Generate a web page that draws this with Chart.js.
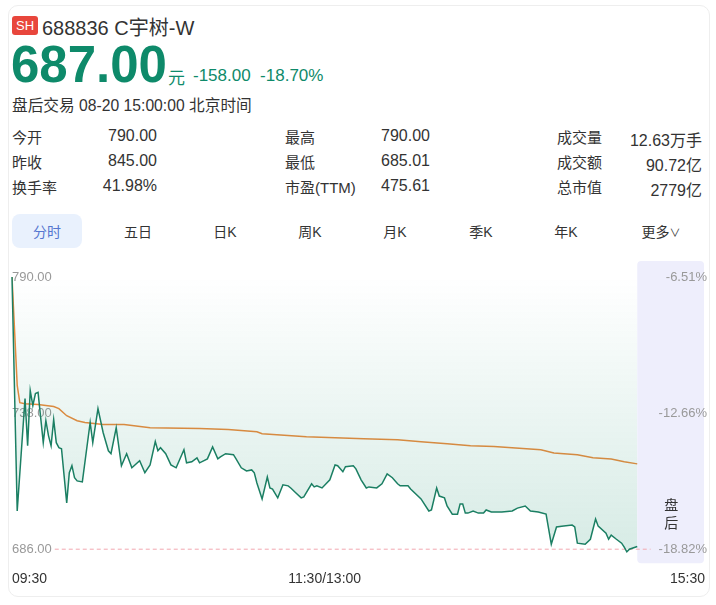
<!DOCTYPE html>
<html>
<head>
<meta charset="utf-8">
<script src="https://cdn.jsdelivr.net/npm/chart.js@4.4.1/dist/chart.umd.min.js"></script>
<style>
  html, body { margin: 0; overflow: hidden; }
  body { background: #fff; font-family: "Liberation Sans", "Noto Sans CJK SC", sans-serif; color: #333; }
  #card { position: absolute; left: 8px; top: 5px; width: 700px; height: 590px; border: 1px solid #eeeeee; border-radius: 10px; }
  .abs { position: absolute; white-space: nowrap; }
  .green { color: #0e8a6a; }
  #badge { left: 12px; top: 16px; width: 26px; height: 19px; background: #e8463c; color: #fff; font-size: 13px; line-height: 19px; text-align: center; border-radius: 3px; }
  .tab { top: 221px; font-size: 14px; color: #333; transform: translateX(-50%); }
  #pill { left: 12px; top: 214px; width: 70px; height: 34px; background: #e9f1fd; border-radius: 8px; }
  .lab { font-size: 15px; color: #333; }
  .val { font-size: 16px; color: #333; }
</style>
</head>
<body>
<div id="card"></div>
<div class="abs" id="badge">SH</div>
<div class="abs" style="left:42px; top:12px; font-size:20px;">688836 C宇树-W</div>
<div class="abs green" style="left:11px; top:35px; font-size:51px; font-weight:bold;">687.00</div>
<div class="abs green" style="left:168px; top:64px; font-size:17px;">元</div>
<div class="abs green" style="left:193px; top:66px; font-size:17px;">-158.00 &nbsp;-18.70%</div>
<div class="abs" style="left:12px; top:93px; font-size:15.7px;">盘后交易 08-20 15:00:00 北京时间</div>

<div class="abs lab" style="left:12px; top:126px;">今开</div>
<div class="abs lab" style="left:12px; top:151px;">昨收</div>
<div class="abs lab" style="left:12px; top:176px;">换手率</div>
<div class="abs val green" style="right:559px; top:127px;">790.00</div>
<div class="abs val" style="right:559px; top:152px;">845.00</div>
<div class="abs val" style="right:559px; top:177px;">41.98%</div>

<div class="abs lab" style="left:285px; top:126px;">最高</div>
<div class="abs lab" style="left:285px; top:151px;">最低</div>
<div class="abs lab" style="left:285px; top:176px;">市盈(TTM)</div>
<div class="abs val green" style="left:381px; top:127px;">790.00</div>
<div class="abs val green" style="left:381px; top:152px;">685.01</div>
<div class="abs val" style="left:381px; top:177px;">475.61</div>

<div class="abs lab" style="left:557px; top:126px;">成交量</div>
<div class="abs lab" style="left:557px; top:151px;">成交额</div>
<div class="abs lab" style="left:557px; top:176px;">总市值</div>
<div class="abs val" style="right:14px; top:127px;">12.63万手</div>
<div class="abs val" style="right:14px; top:152px;">90.72亿</div>
<div class="abs val" style="right:14px; top:177px;">2779亿</div>

<div class="abs" id="pill"></div>
<div class="abs tab" style="left:47px; color:#5677d0;">分时</div>
<div class="abs tab" style="left:138px;">五日</div>
<div class="abs tab" style="left:225px;">日K</div>
<div class="abs tab" style="left:310px;">周K</div>
<div class="abs tab" style="left:395px;">月K</div>
<div class="abs tab" style="left:481px;">季K</div>
<div class="abs tab" style="left:566px;">年K</div>
<div class="abs tab" style="left:661px;">更多<span style="font-size:11px;">∨</span></div>

<div class="abs" style="left:0; top:255px; width:716px; height:345px;">
  <canvas id="fenshi" width="716" height="345"></canvas>
</div>

<script>
// 分时 data, minutes from 09:30 (0..240), after-hours band after 240
var priceMinutes = [
  0, 2, 5, 6, 7, 8, 9, 10, 12, 13,
  14, 15, 16, 17, 18, 19, 21, 22, 23, 24,
  25, 27, 30, 31, 33, 35, 37, 38, 40, 42,
  44, 46, 49, 51, 53, 55, 56, 57, 59, 61,
  63, 66, 67, 69, 71, 72, 75, 77, 79, 80,
  82, 85, 86, 88, 90, 92, 93, 94, 96, 98,
  99, 100, 102, 104, 106, 107, 109, 111, 112, 115,
  116, 117, 119, 122, 124, 125, 127, 128, 131, 132,
  134, 136, 137, 140, 142, 144, 146, 148, 149, 152,
  153, 157, 160, 161, 163, 164, 166, 167, 169, 171,
  172, 173, 174, 175, 177, 179, 181, 182, 184, 188,
  192, 194, 197, 199, 202, 205, 207, 209, 211, 215,
  216, 217, 220, 222, 224, 225, 228, 229, 230, 232,
  234, 235, 236, 237, 240
];
var prices = [
  790, 700.6, 743.6, 725.5, 746.6, 740.9, 745.5, 745.9, 726.7, 735.1,
  729.4, 725.5, 735.5, 726.7, 724.8, 724.4, 703.7, 715.2, 717.9, 713.3,
  712.1, 711.7, 734.4, 726.7, 739.7, 730.5, 723.6, 722.5, 732.4, 717.9,
  722.5, 717.1, 719.8, 715.2, 718.2, 727.1, 723.6, 724.8, 722.5, 718.2,
  717.1, 724.0, 719.0, 719.4, 720.9, 719.0, 720.5, 725.1, 720.5, 721.3,
  722.5, 722.1, 720.5, 717.1, 715.9, 716.3, 715.2, 711.3, 705.2, 713.6,
  709.4, 709.0, 705.6, 710.6, 710.2, 709.4, 707.5, 705.6, 706.0, 711.0,
  709.8, 710.2, 709.4, 712.5, 718.2, 717.9, 715.6, 717.5, 717.9, 716.7,
  712.5, 709.4, 709.8, 709.4, 711.0, 714.8, 713.3, 711.0, 710.2, 710.2,
  709.0, 705.2, 700.6, 701.0, 709.4, 706.3, 705.6, 702.5, 699.4, 699.4,
  703.3, 703.3, 699.8, 699.8, 700.6, 699.8, 699.8, 701.0, 700.2, 700.2,
  700.6, 701.7, 702.5, 700.6, 700.2, 699.4, 687.9, 694.5, 694.8, 695.2,
  694.5, 688.3, 687.9, 689.8, 697.5, 694.8, 692.1, 689.8, 691.4, 689.8,
  688.3, 686.8, 685.01, 686.0, 687.0
];
var avgMinutes = [
  0, 2, 3, 5, 10, 16, 18, 21, 25, 28,
  35, 43, 53, 72, 83, 94, 96, 113, 135, 148,
  157, 167, 176, 185, 203, 208, 217, 223, 230, 235,
  240
];
var avgPrices = [
  790, 748.6, 742.0, 741.6, 741.3, 740.5, 739.7, 737.0, 735.1, 734.4,
  733.6, 733.6, 732.4, 732.1, 731.7, 730.9, 730.1, 729.0, 728.2, 727.8,
  727.1, 726.3, 725.5, 725.2, 724.0, 722.8, 722.1, 720.9, 720.5, 719.4,
  718.6
];
var prevClose = 845;
var priceTicks = [686, 738, 790];
var priceTickLabels = ['686.00', '738.00', '790.00'];
var pctTickLabels = ['-18.82%', '-12.66%', '-6.51%'];
var timeTickMinutes = [0, 120, 266];
var timeTickLabels = ['09:30', '11:30/13:00', '15:30'];
var closeMinute = 240;

var pct = function (p) { return (p / prevClose - 1) * 100; };

var bandPlugin = {
  id: 'band',
  beforeDraw: function (chart) {
    var c = chart.ctx, a = chart.chartArea;
    var x0 = chart.scales.x.getPixelForValue(closeMinute);
    c.save();
    c.fillStyle = '#eeeefc';
    c.beginPath();
    c.roundRect(x0, a.top - 16, a.right - 1 - x0, a.bottom - a.top + 30, 4);
    c.fill();
    c.fillStyle = '#333';
    c.font = '14px "Noto Sans CJK SC"';
    c.textAlign = 'center';
    c.textBaseline = 'middle';
    var cx = (x0 + a.right) / 2;
    c.fillText('盘', cx, a.bottom - 45);
    c.fillText('后', cx, a.bottom - 27);
    c.restore();
  },
  beforeDatasetsDraw: function (chart) {
    var c = chart.ctx, a = chart.chartArea;
    var y = chart.scales.y.getPixelForValue(priceTicks[0]);
    c.save();
    c.font = '13px "Liberation Sans"';
    var xs = a.left + c.measureText(priceTickLabels[0]).width + 3;
    var xe = a.right - c.measureText(pctTickLabels[0]).width - 6;
    c.strokeStyle = '#f2a7b0';
    c.lineWidth = 1;
    c.setLineDash([4, 3]);
    c.beginPath();
    c.moveTo(xs, y);
    c.lineTo(xe, y);
    c.stroke();
    c.restore();
  }
};

var ctx = document.getElementById('fenshi').getContext('2d');
var myChart = new Chart(ctx, {
    type: 'line',
    data: {
        datasets: [{
            label: '价格',
            data: priceMinutes.map(function (m, i) { return { x: m, y: prices[i] }; }),
            borderColor: '#1b7f63',
            borderWidth: 1.5,
            pointRadius: 0,
            tension: 0,
            clip: 6,
            fill: 'end',
            backgroundColor: function (context) {
                var a = context.chart.chartArea;
                if (!a) return 'rgba(0,0,0,0)';
                var g = context.chart.ctx.createLinearGradient(0, a.top, 0, a.bottom);
                g.addColorStop(0, 'rgba(20,140,105,0)');
                g.addColorStop(1, 'rgba(20,140,105,0.17)');
                return g;
            }
        }, {
            label: '均价',
            data: avgMinutes.map(function (m, i) { return { x: m, y: avgPrices[i] }; }),
            borderColor: '#ec8a3c',
            borderWidth: 1.5,
            pointRadius: 0,
            fill: false
        }]
    },
    options: {
        responsive: false,
        animation: false,
        events: [],
        layout: { padding: { left: 12, right: 7, top: 22, bottom: 12 } },
        plugins: { legend: { display: false }, tooltip: { enabled: false } },
        scales: {
            x: {
                type: 'linear',
                min: timeTickMinutes[0],
                max: timeTickMinutes[2],
                // invisible tick marks push the labels down without adding side padding
                grid: { display: true, drawOnChartArea: false, drawTicks: true, tickLength: 22, color: 'rgba(0,0,0,0)' },
                border: { display: false },
                afterBuildTicks: function (s) { s.ticks = timeTickMinutes.map(function (v) { return { value: v }; }); },
                ticks: {
                    align: 'inner',
                    padding: 0,
                    maxRotation: 0,
                    color: '#333',
                    font: { size: 14, family: '"Liberation Sans"' },
                    callback: function (v, i) { return timeTickLabels[i]; }
                }
            },
            y: {
                position: 'left',
                min: priceTicks[0],
                max: priceTicks[2],
                grid: { display: false, drawTicks: false },
                border: { display: false },
                afterBuildTicks: function (s) { s.ticks = priceTicks.map(function (v) { return { value: v }; }); },
                ticks: {
                    mirror: true,
                    padding: 0,
                    color: '#999',
                    font: { size: 13, family: '"Liberation Sans"' },
                    callback: function (v, i) { return priceTickLabels[i]; }
                }
            },
            y2: {
                position: 'right',
                min: pct(priceTicks[0]),
                max: pct(priceTicks[2]),
                grid: { display: false, drawTicks: false },
                border: { display: false },
                afterBuildTicks: function (s) { s.ticks = priceTicks.map(function (v) { return { value: pct(v) }; }); },
                ticks: {
                    mirror: true,
                    padding: 2,
                    color: '#999',
                    font: { size: 13, family: '"Liberation Sans"' },
                    callback: function (v, i) { return pctTickLabels[i]; }
                }
            }
        }
    },
    plugins: [bandPlugin]
});
</script>
</body>
</html>
